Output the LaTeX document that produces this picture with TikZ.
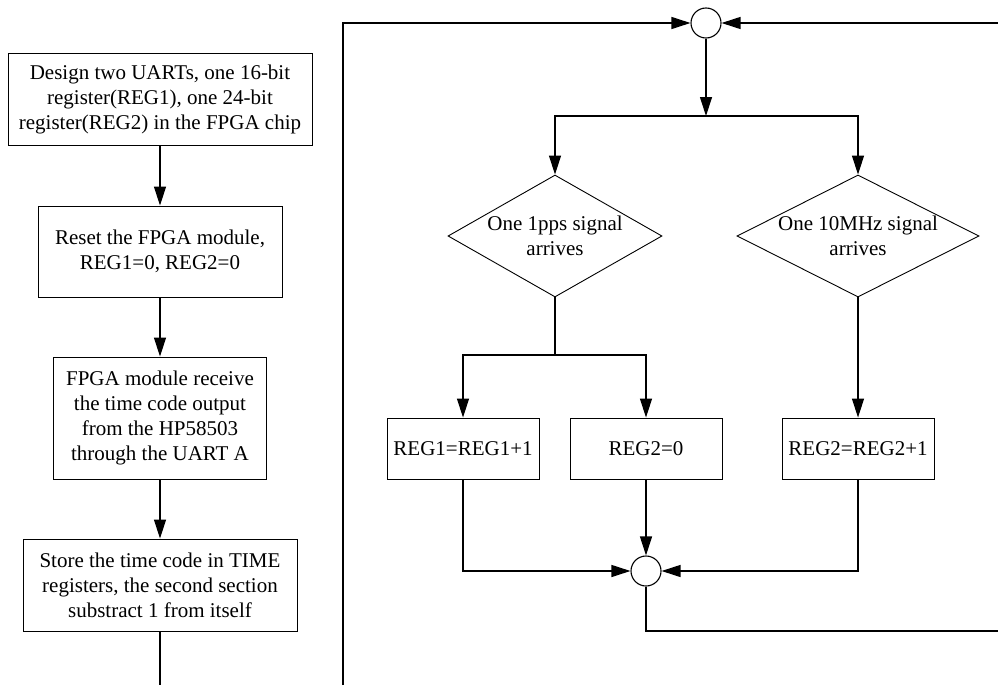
\documentclass[tikz,border=0pt]{standalone}
\usepackage{fontspec}
\setmainfont{Liberation Serif}
\usetikzlibrary{positioning,arrows.meta,shapes.geometric}

\begin{document}
\begin{tikzpicture}[x=1pt,y=-1pt,>={Triangle[length=19pt,width=12pt]},
  every node/.style={font=\fontsize{21}{25}\selectfont},
  box/.style={draw,line width=0.9pt,align=center,inner sep=0pt},
  regbox/.style={box,minimum width=152pt,minimum height=61pt},
  cond/.style={draw,diamond,aspect=2,line width=0.9pt,align=center,inner xsep=-7pt,inner ysep=0pt,minimum height=122pt},
  junc/.style={draw,circle,line width=1.1pt,minimum size=30pt,inner sep=0pt},
  flow/.style={line width=1.2pt}]
  \useasboundingbox (0,0) rectangle (998,685);

  % left column
  \node[box,minimum width=304pt,minimum height=92pt] (design) at (160,99)
    {Design two UARTs, one 16-bit\\register(REG1), one 24-bit\\register(REG2) in the FPGA chip};
  \node[box,minimum width=244pt,minimum height=91pt] (reset) at (160,251.5)
    {Reset the FPGA module,\\REG1=0, REG2=0};
  \node[box,minimum width=213pt,minimum height=122pt] (receive) at (160,418)
    {FPGA module receive\\the time code output\\from the HP58503\\through the UART A};
  \node[box,minimum width=274pt,minimum height=92pt] (store) at (160,585)
    {Store the time code in TIME\\registers, the second section\\substract 1 from itself};
  \coordinate (leftend) at (160,685);

  \foreach \a/\b in {design/reset,reset/receive,receive/store}
    \draw[flow,->] (\a) -- (\b);
  \draw[flow] (store) -- (leftend);

  % counting loop
  \node[junc] (top) at (706,23) {};
  \node[cond,minimum width=214pt] (pps) at (555,236) {One 1pps signal\\arrives};
  \node[cond,minimum width=242pt] (mhz) at (858,236) {One 10MHz signal\\arrives};
  \node[regbox] (inc1) at (463,448.5) {REG1=REG1+1};
  \node[regbox] (clr2) at (646,448.5) {REG2=0};
  \node[regbox] (inc2) at (858,448.5) {REG2=REG2+1};
  \node[junc] (merge) at (646,571) {};

  \coordinate (split) at (706,116);
  \coordinate (fork) at (555,355);
  \coordinate (loopl) at (343,685);
  \coordinate (loopr) at (998,23);
  \coordinate (outr) at (998,631);

  \draw[flow,->] (loopl) |- (top);
  \draw[flow,->] (loopr) -- (top);
  \draw[flow,->] (top) -- (split);
  \draw[flow,->] (split) -| (pps);
  \draw[flow,->] (split) -| (mhz);
  \draw[flow] (pps) -- (fork);
  \draw[flow,->] (fork) -| (inc1);
  \draw[flow,->] (fork) -| (clr2);
  \draw[flow,->] (mhz) -- (inc2);
  \draw[flow,->] (inc1) |- (merge);
  \draw[flow,->] (clr2) -- (merge);
  \draw[flow,->] (inc2) |- (merge);
  \draw[flow] (merge) |- (outr);
\end{tikzpicture}
\end{document}
